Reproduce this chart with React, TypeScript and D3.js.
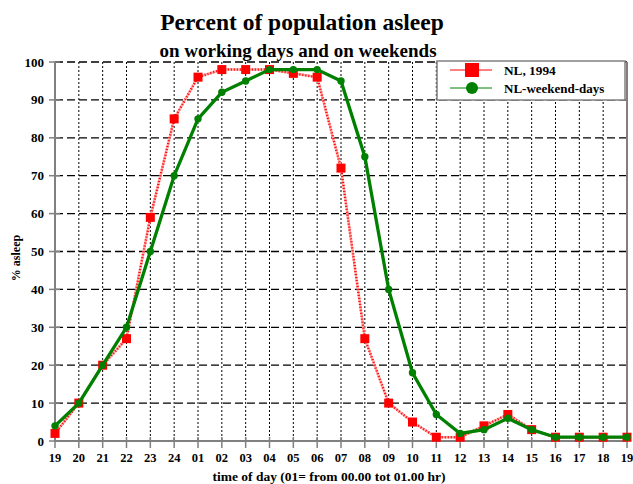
import React from 'react';
import * as d3 from 'd3';

const hours = ['19', '20', '21', '22', '23', '24', '01', '02', '03', '04', '05', '06', '07', '08', '09', '10', '11', '12', '13', '14', '15', '16', '17', '18', '19'];
const nl1994 = [2, 10, 20, 27, 59, 85, 96, 98, 98, 98, 97, 96, 72, 27, 10, 5, 1, 1, 4, 7, 3, 1, 1, 1, 1];
const nlWeekend = [4, 10, 20, 30, 50, 70, 85, 92, 95, 98, 98, 98, 95, 75, 40, 18, 7, 2, 3, 6, 3, 1, 1, 1, 1];
const yTicks = [0, 10, 20, 30, 40, 50, 60, 70, 80, 90, 100];

const W = 633;
const H = 484;
const font = '"Liberation Serif", "Times New Roman", serif';

export default function App() {
    const x = d3.scaleLinear().domain([0, hours.length - 1]).range([55, 627]);
    const y = d3.scaleLinear().domain([0, 100]).range([441, 62]);

    const line = d3
        .line<number>()
        .x((d, i) => x(i))
        .y((d) => y(d));

    return (
        <svg width={W} height={H} style={{ position: 'absolute', left: 0, top: 0, background: '#fff' }}
            fontFamily={font} fontWeight="bold">
            {/* titles */}
            <text x={302} y={30} fontSize={23.5} textAnchor="middle">Percent of population asleep</text>
            <text x={298} y={57} fontSize={19} textAnchor="middle">on working days and on weekends</text>

            {/* grid */}
            {yTicks.filter((t) => t > 0).map((t) => (
                <line key={'h' + t} x1={x(0)} x2={x(hours.length - 1)} y1={y(t)} y2={y(t)}
                    stroke="#000" strokeWidth={1.3} strokeDasharray="8,4" />
            ))}
            {hours.map((h, i) => (i > 0 && i < hours.length - 1 ? (
                <line key={'v' + i} x1={x(i)} x2={x(i)} y1={y(100)} y2={y(0)}
                    stroke="#000" strokeWidth={1} strokeDasharray="2,2" />
            ) : null))}

            {/* axes */}
            <line x1={x(0)} x2={x(0)} y1={y(100)} y2={y(0) + 1} stroke="#808080" strokeWidth={2} />
            <line x1={x(hours.length - 1)} x2={x(hours.length - 1)} y1={y(100)} y2={y(0) + 1} stroke="#808080" strokeWidth={2} />
            <line x1={x(0)} x2={x(hours.length - 1)} y1={y(0)} y2={y(0)} stroke="#808080" strokeWidth={2} />
            {yTicks.map((t) => (
                <g key={'yt' + t}>
                    <line x1={x(0) - 6} x2={x(0) + 5} y1={y(t)} y2={y(t)} stroke="#808080" strokeWidth={1.5} />
                    <text x={44} y={y(t)} dy="0.35em" fontSize={13} textAnchor="end">{t}</text>
                </g>
            ))}
            {hours.map((h, i) => (
                <g key={'xt' + i}>
                    <line x1={x(i)} x2={x(i)} y1={y(0) - 4} y2={y(0) + 7} stroke="#808080" strokeWidth={1.5} />
                    <text x={x(i)} y={462} fontSize={12.5} textAnchor="middle">{h}</text>
                </g>
            ))}
            <text x={329} y={481} fontSize={13.5} textAnchor="middle">time of day (01= from 00.00 tot 01.00 hr)</text>
            <text transform="translate(20,258) rotate(-90)" fontSize={12} textAnchor="middle">% asleep</text>

            {/* NL, 1994 */}
            <path d={line(nl1994) || ''} fill="none" stroke="#ffa8a8" strokeWidth={2.5} />
            <path d={line(nl1994) || ''} fill="none" stroke="#ff0000" strokeWidth={2.5} strokeDasharray="1,2" />
            {nl1994.map((v, i) => (
                <rect key={'s' + i} x={x(i) - 4.5} y={y(v) - 4.5} width={9} height={9} fill="#ff0000" />
            ))}

            {/* NL weekend days */}
            <path d={line(nlWeekend) || ''} fill="none" stroke="#008000" strokeWidth={3.3} />
            {nlWeekend.map((v, i) => (
                <circle key={'c' + i} cx={x(i)} cy={y(v)} r={3.7} fill="#008000" />
            ))}

            {/* legend */}
            <rect x={437} y={61} width={188} height={39} fill="#fff" stroke="#808080" strokeWidth={1.5} />
            <line x1={450} x2={492} y1={70} y2={70} stroke="#ff0000" strokeWidth={1} />
            <rect x={465} y={63} width={14} height={14} fill="#ff0000" />
            <text x={504} y={75} fontSize={13.3}>NL, 1994</text>
            <line x1={450} x2={492} y1={88} y2={88} stroke="#008000" strokeWidth={1} />
            <circle cx={472} cy={88} r={6} fill="#008000" />
            <text x={504} y={93} fontSize={13}>NL-weekend-days</text>
        </svg>
    );
}
